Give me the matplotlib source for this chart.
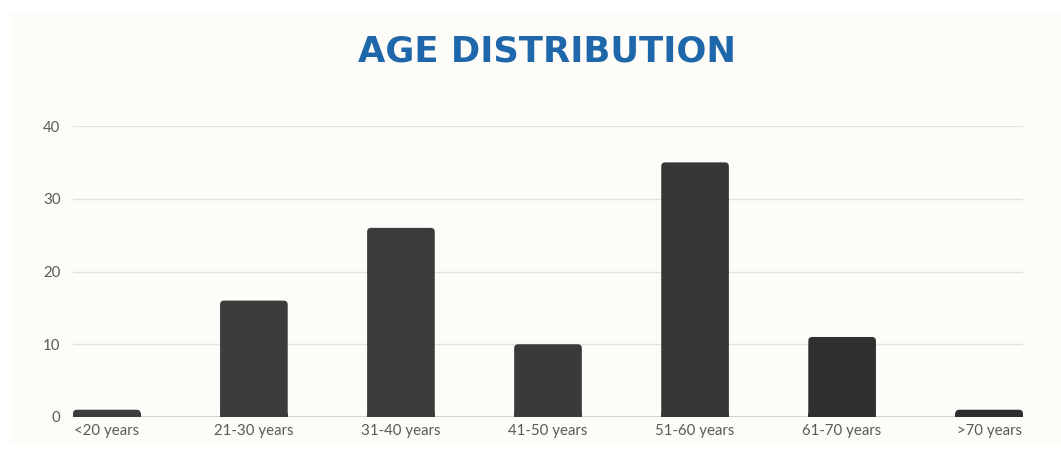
import matplotlib
matplotlib.use("Agg")
import matplotlib.pyplot as plt
from matplotlib.patches import FancyBboxPatch, Rectangle

# 数据
categories = ["<20 years", "21-30 years", "31-40 years", "41-50 years",
              "51-60 years", "61-70 years", ">70 years"]
counts = [1, 16, 26, 10, 35, 11, 1]
bar_colors = ["#3c3c3c", "#3c3c3c", "#3b3b3b", "#3a3a3a",
              "#363636", "#303030", "#2f2f2f"]
y_ticks = [0, 10, 20, 30, 40]

W, H = 1061, 450
fig = plt.figure(figsize=(W / 100, H / 100), dpi=100)
fig.patch.set_facecolor("white")

# 背景面板
fig.patches.append(Rectangle((10 / W, 5 / H), 1 - 10 / W, 1 - 18 / H,
                             transform=fig.transFigure, facecolor="#fdfcf8",
                             edgecolor="none", zorder=0))

bar_w = 0.46
ax = fig.add_axes([73 / W, 1 - 417 / H, (1023 - 73) / W, (417 - 126) / H])
ax.set_facecolor("none")
ax.set_zorder(2)

ax.set_xlim(-bar_w / 2, len(categories) - 1 + bar_w / 2)
ax.set_ylim(0, 40)

bars = ax.bar(range(len(categories)), counts, width=bar_w, color=bar_colors)

# 圆角柱：像素比例换算
px_x = (1023 - 73) / (len(categories) - 1 + bar_w)   # 每个x单位的像素
px_y = (417 - 126) / 40                               # 每个y单位的像素
rad = 4 / px_x
for b, c in zip(bars, bar_colors):
    x, y = b.get_x(), b.get_y()
    w, h = b.get_width(), b.get_height()
    b.set_visible(False)
    ax.add_patch(FancyBboxPatch((x, y), w, h,
                                boxstyle=f"round,pad=0,rounding_size={rad}",
                                mutation_aspect=px_x / px_y,
                                facecolor=c, edgecolor="none", zorder=3))
    ax.add_patch(Rectangle((x, y), w, min(h, 0.5), facecolor=c,
                           edgecolor="none", zorder=3))

ax.set_yticks(y_ticks)
ax.set_xticks(range(len(categories)))
ax.set_xticklabels(categories)

for s in ax.spines.values():
    s.set_visible(False)
ax.yaxis.grid(True, color="#e2e2e0", linewidth=1)
ax.set_axisbelow(True)
ax.axhline(0, color="#cfcfcd", linewidth=1.3, zorder=2)
ax.tick_params(length=0, labelsize=10.8, colors="#5a5a5a", pad=5)
ax.tick_params(axis="y", pad=9)
for lbl in ax.get_xticklabels() + ax.get_yticklabels():
    lbl.set_fontfamily("Lato")

fig.text(547 / W, 1 - 51 / H, "AGE DISTRIBUTION", ha="center", va="center",
         fontsize=25.5, fontweight="bold", family="DejaVu Sans", color="#1f67ab")

fig.savefig("out.png", dpi=100, facecolor=fig.get_facecolor())
